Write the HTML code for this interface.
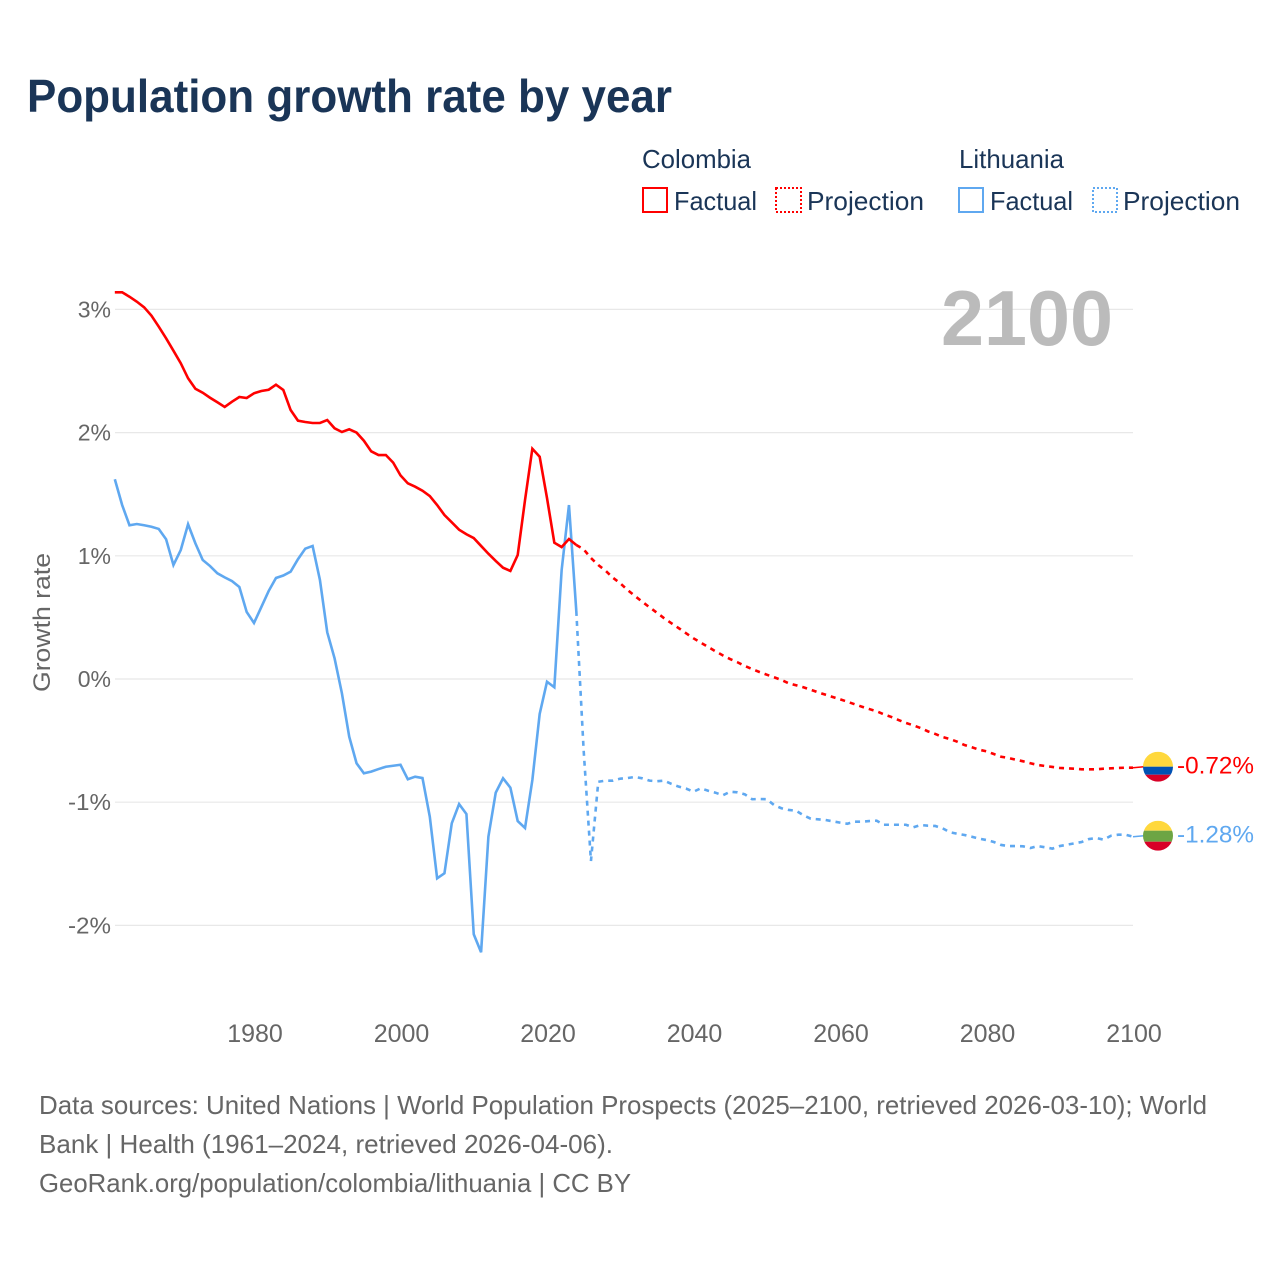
<!DOCTYPE html>
<html lang="en">
<head>
<meta charset="utf-8">
<title>Population growth rate by year</title>
<style>
html,body{margin:0;padding:0;background:#fff;width:1280px;height:1280px;overflow:hidden}
svg{display:block;font-family:"Liberation Sans",sans-serif}
</style>
</head>
<body>
<svg id="chart" width="1280" height="1280" viewBox="0 0 1280 1280" xmlns="http://www.w3.org/2000/svg">
  <defs>
    <clipPath id="flag-clip"><circle cx="0" cy="0" r="15"/></clipPath>
  </defs>
  <rect width="1280" height="1280" fill="#fff"/>
  <text x="27" y="112" font-size="46" font-weight="700" fill="#1a3557" textLength="645" lengthAdjust="spacingAndGlyphs">Population growth rate by year</text>

  <g font-size="26" fill="#1a3557">
    <text x="642" y="168" textLength="109" lengthAdjust="spacingAndGlyphs">Colombia</text>
    <text x="959" y="168" textLength="105" lengthAdjust="spacingAndGlyphs">Lithuania</text>
    <rect x="643" y="188" width="24" height="24" fill="none" stroke="#ff0000" stroke-width="2"/>
    <text x="674" y="210" textLength="83" lengthAdjust="spacingAndGlyphs">Factual</text>
    <rect x="776" y="188" width="25" height="24" fill="none" stroke="#ff0000" stroke-width="2" stroke-dasharray="2 2"/>
    <text x="807" y="210" textLength="117" lengthAdjust="spacingAndGlyphs">Projection</text>
    <rect x="959" y="188" width="24" height="24" fill="none" stroke="#5fa8f0" stroke-width="2"/>
    <text x="990" y="210" textLength="83" lengthAdjust="spacingAndGlyphs">Factual</text>
    <rect x="1093" y="188" width="24" height="24" fill="none" stroke="#5fa8f0" stroke-width="2" stroke-dasharray="2 2"/>
    <text x="1123" y="210" textLength="117" lengthAdjust="spacingAndGlyphs">Projection</text>
  </g>

  <g id="grid"></g>
  <g id="y-ticks"></g>
  <g id="x-ticks"></g>
  <text transform="translate(50,692) rotate(-90)" font-size="24" fill="#666666" textLength="139" lengthAdjust="spacingAndGlyphs">Growth rate</text>
  <text x="941" y="345" font-size="78" font-weight="700" fill="#bbbbbb" textLength="172" lengthAdjust="spacingAndGlyphs">2100</text>

  <g id="series"></g>

  <g id="flag-colombia">
    <g clip-path="url(#flag-clip)">
      <rect x="-15" y="-15" width="30" height="15" fill="#ffd83d"/>
      <rect x="-15" y="0" width="30" height="8" fill="#0052b4"/>
      <rect x="-15" y="8" width="30" height="7" fill="#d80027"/>
    </g>
  </g>
  <g id="flag-lithuania">
    <g clip-path="url(#flag-clip)">
      <rect x="-15" y="-15" width="30" height="10" fill="#ffd83d"/>
      <rect x="-15" y="-5" width="30" height="11" fill="#6da544"/>
      <rect x="-15" y="6" width="30" height="9" fill="#d80027"/>
    </g>
  </g>
  <text id="label-colombia" x="1177" font-size="24" fill="#ff0000" textLength="77" lengthAdjust="spacingAndGlyphs"></text>
  <text id="label-lithuania" x="1177" font-size="24" fill="#5fa8f0" textLength="77" lengthAdjust="spacingAndGlyphs"></text>

  <g font-size="26" fill="#666666">
    <text x="39" y="1114" textLength="1168" lengthAdjust="spacingAndGlyphs">Data sources: United Nations | World Population Prospects (2025–2100, retrieved 2026-03-10); World</text>
    <text x="39" y="1153" textLength="574" lengthAdjust="spacingAndGlyphs">Bank | Health (1961–2024, retrieved 2026-04-06).</text>
    <text x="39" y="1192" textLength="592" lengthAdjust="spacingAndGlyphs">GeoRank.org/population/colombia/lithuania | CC BY</text>
  </g>
</svg>
<script>
const firstYear = 1961;
const projectionStartYear = 2024;
const yTickValues = [3, 2, 1, 0, -1, -2];
const yTickLabels = ["3%", "2%", "1%", "0%", "-1%", "-2%"];
const xTickValues = [1980, 2000, 2020, 2040, 2060, 2080, 2100];
const xTickLabels = ["1980", "2000", "2020", "2040", "2060", "2080", "2100"];

// Growth rate in percent, 1961-2024
const colombiaFactual = [
  3.139,3.139,3.103,3.063,3.017,2.949,2.860,2.765,2.665,2.563,
  2.441,2.356,2.324,2.283,2.246,2.208,2.251,2.289,2.281,2.319,
  2.338,2.348,2.389,2.346,2.183,2.097,2.086,2.078,2.078,2.102,
  2.035,2.005,2.027,2.000,1.934,1.848,1.818,1.818,1.756,1.653,
  1.588,1.561,1.528,1.485,1.412,1.331,1.272,1.212,1.175,1.144,
  1.080,1.017,0.958,0.903,0.877,1.006,1.453,1.869,1.804,1.469,
  1.106,1.071,1.136,1.088
];
const lithuaniaFactual = [
  1.621,1.412,1.248,1.258,1.248,1.236,1.218,1.134,0.925,1.047,
  1.256,1.101,0.966,0.917,0.858,0.825,0.795,0.747,0.544,0.455,
  0.584,0.714,0.820,0.840,0.871,0.972,1.058,1.080,0.804,0.379,
  0.168,-0.116,-0.468,-0.684,-0.765,-0.752,-0.731,-0.712,-0.704,-0.696,
  -0.814,-0.793,-0.804,-1.118,-1.618,-1.577,-1.171,-1.015,-1.096,-2.072,
  -2.218,-1.280,-0.923,-0.806,-0.882,-1.153,-1.209,-0.820,-0.284,-0.022,
  -0.067,0.885,1.412,0.552
];
// Growth rate in percent, 2024-2100
const colombiaProjection = [
  1.088,1.053,0.982,0.925,0.879,0.822,0.777,0.722,0.674,0.627,
  0.582,0.538,0.493,0.452,0.412,0.371,0.330,0.295,0.260,0.225,
  0.192,0.162,0.136,0.106,0.081,0.057,0.035,0.014,-0.008,-0.035,
  -0.051,-0.067,-0.087,-0.108,-0.127,-0.146,-0.165,-0.184,-0.205,-0.225,
  -0.244,-0.262,-0.287,-0.308,-0.333,-0.357,-0.376,-0.398,-0.425,-0.446,
  -0.471,-0.487,-0.509,-0.536,-0.554,-0.574,-0.587,-0.609,-0.631,-0.641,
  -0.655,-0.668,-0.684,-0.698,-0.706,-0.714,-0.722,-0.725,-0.728,-0.733,
  -0.733,-0.733,-0.728,-0.725,-0.722,-0.720,-0.720
];
const lithuaniaProjection = [
  0.552,-0.576,-1.477,-0.834,-0.825,-0.825,-0.809,-0.804,-0.795,-0.806,
  -0.825,-0.830,-0.825,-0.852,-0.874,-0.890,-0.915,-0.887,-0.907,-0.923,
  -0.944,-0.915,-0.920,-0.936,-0.976,-0.974,-0.976,-1.023,-1.049,-1.063,
  -1.069,-1.106,-1.134,-1.139,-1.144,-1.155,-1.166,-1.175,-1.158,-1.158,
  -1.153,-1.150,-1.183,-1.183,-1.183,-1.183,-1.204,-1.185,-1.191,-1.193,
  -1.212,-1.244,-1.256,-1.266,-1.280,-1.296,-1.307,-1.323,-1.347,-1.356,
  -1.356,-1.358,-1.372,-1.356,-1.366,-1.377,-1.356,-1.345,-1.334,-1.323,
  -1.299,-1.291,-1.304,-1.272,-1.264,-1.264,-1.280
];

const NS = "http://www.w3.org/2000/svg";
const xScale = year => 255 + (year - 1980) * 7.325;
const markX = year => xScale(year) - 1;
const yScale = value => 679 - value * 123.2;
const RED = "#ff0000";
const BLUE = "#5fa8f0";

const gridGroup = document.getElementById("grid");
const yTickGroup = document.getElementById("y-ticks");
yTickValues.forEach(function (value, i) {
  const line = document.createElementNS(NS, "line");
  
  
  line.setAttribute("x1", 115);
  line.setAttribute("x2", 1133);
  line.setAttribute("y1", yScale(value));
  line.setAttribute("y2", yScale(value));
  line.setAttribute("stroke", "#e8e8e8");
  line.setAttribute("stroke-width", "1.2");
  gridGroup.appendChild(line);

  const label = document.createElementNS(NS, "text");
  
  
  label.setAttribute("x", 111);
  label.setAttribute("y", yScale(value) + 8);
  label.setAttribute("text-anchor", "end");
  label.setAttribute("font-size", "23");
  label.setAttribute("fill", "#666666");
  if (value < 0) {
    label.setAttribute("textLength", "43");
    label.setAttribute("lengthAdjust", "spacingAndGlyphs");
  }
  label.textContent = yTickLabels[i];
  yTickGroup.appendChild(label);
});

const xTickGroup = document.getElementById("x-ticks");
xTickValues.forEach(function (year, i) {
  const label = document.createElementNS(NS, "text");
  
  
  label.setAttribute("x", xScale(year));
  label.setAttribute("y", 1042);
  label.setAttribute("text-anchor", "middle");
  label.setAttribute("font-size", "25");
  label.setAttribute("fill", "#666666");
  label.textContent = xTickLabels[i];
  xTickGroup.appendChild(label);
});

function pathFor(values, startYear) {
  return values.map(function (v, i) {
    return (i ? "L" : "M") + markX(startYear + i).toFixed(2) + " " + yScale(v).toFixed(2);
  }).join(" ");
}

const seriesGroup = document.getElementById("series");

const lithuaniaFactualLine = document.createElementNS(NS, "path");


lithuaniaFactualLine.setAttribute("d", pathFor(lithuaniaFactual, firstYear));
lithuaniaFactualLine.setAttribute("fill", "none");
lithuaniaFactualLine.setAttribute("stroke", BLUE);
lithuaniaFactualLine.setAttribute("stroke-width", "2.6");
seriesGroup.appendChild(lithuaniaFactualLine);

const lithuaniaProjectionLine = document.createElementNS(NS, "path");


lithuaniaProjectionLine.setAttribute("d", pathFor(lithuaniaProjection, projectionStartYear));
lithuaniaProjectionLine.setAttribute("fill", "none");
lithuaniaProjectionLine.setAttribute("stroke", BLUE);
lithuaniaProjectionLine.setAttribute("stroke-width", "2.6");
lithuaniaProjectionLine.setAttribute("stroke-dasharray", "5 5");
seriesGroup.appendChild(lithuaniaProjectionLine);

const colombiaFactualLine = document.createElementNS(NS, "path");


colombiaFactualLine.setAttribute("d", pathFor(colombiaFactual, firstYear));
colombiaFactualLine.setAttribute("fill", "none");
colombiaFactualLine.setAttribute("stroke", RED);
colombiaFactualLine.setAttribute("stroke-width", "2.6");
seriesGroup.appendChild(colombiaFactualLine);

const colombiaProjectionLine = document.createElementNS(NS, "path");


colombiaProjectionLine.setAttribute("d", pathFor(colombiaProjection, projectionStartYear));
colombiaProjectionLine.setAttribute("fill", "none");
colombiaProjectionLine.setAttribute("stroke", RED);
colombiaProjectionLine.setAttribute("stroke-width", "2.6");
colombiaProjectionLine.setAttribute("stroke-dasharray", "5 5");
seriesGroup.appendChild(colombiaProjectionLine);

const lastColombia = colombiaProjection[colombiaProjection.length - 1];
const lastLithuania = lithuaniaProjection[lithuaniaProjection.length - 1];

const colombiaLeader = document.createElementNS(NS, "line");


colombiaLeader.setAttribute("x1", markX(2100));
colombiaLeader.setAttribute("x2", 1144);
colombiaLeader.setAttribute("y1", yScale(lastColombia));
colombiaLeader.setAttribute("y2", yScale(lastColombia) - 1);
colombiaLeader.setAttribute("stroke", RED);
colombiaLeader.setAttribute("stroke-width", "1.5");
seriesGroup.appendChild(colombiaLeader);

const lithuaniaLeader = document.createElementNS(NS, "line");


lithuaniaLeader.setAttribute("x1", markX(2100));
lithuaniaLeader.setAttribute("x2", 1144);
lithuaniaLeader.setAttribute("y1", yScale(lastLithuania));
lithuaniaLeader.setAttribute("y2", yScale(lastLithuania) - 1);
lithuaniaLeader.setAttribute("stroke", BLUE);
lithuaniaLeader.setAttribute("stroke-width", "1.5");
seriesGroup.appendChild(lithuaniaLeader);

document.getElementById("flag-colombia").setAttribute("transform", "translate(1158," + (yScale(lastColombia) - 1) + ")");
document.getElementById("flag-lithuania").setAttribute("transform", "translate(1158," + (yScale(lastLithuania) - 1) + ")");

const colombiaLabel = document.getElementById("label-colombia");
colombiaLabel.setAttribute("y", yScale(lastColombia) + 6);
colombiaLabel.textContent = lastColombia.toFixed(2) + "%";
const lithuaniaLabel = document.getElementById("label-lithuania");
lithuaniaLabel.setAttribute("y", yScale(lastLithuania) + 6);
lithuaniaLabel.textContent = lastLithuania.toFixed(2) + "%";
</script>
</body>
</html>
